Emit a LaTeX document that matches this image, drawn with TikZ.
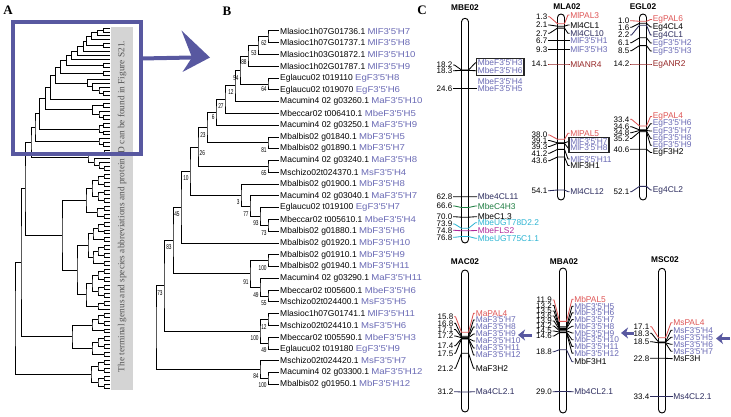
\documentclass[tikz,border=0pt]{standalone}
\usepackage{fontspec}
\usetikzlibrary{calc,fit,arrows.meta}
\newfontfamily\arial{Liberation Sans}
\newfontfamily\timesf{Liberation Serif}
\definecolor{gn}{RGB}{105,105,180}
\definecolor{bluearr}{RGB}{88,88,160}
\definecolor{palred}{RGB}{222,85,85}
\definecolor{anrbrown}{RGB}{150,40,40}
\definecolor{navy}{RGB}{45,45,95}
\definecolor{c4hgreen}{RGB}{30,125,65}
\definecolor{ugtcyan}{RGB}{45,180,210}
\definecolor{flsmag}{RGB}{175,40,155}
\definecolor{barg}{RGB}{212,212,212}
\definecolor{bartext}{RGB}{85,85,85}
\tikzset{
 leaf/.style={anchor=west, inner sep=1.5pt, font=\arial\fontsize{8.5}{9}\selectfont, text=black},
 bslab/.style={anchor=east, inner sep=0pt, font=\arial\fontsize{7}{7}\selectfont},
 btree/.style={line width=1pt, black},
 atree/.style={line width=0.9pt, black},
 chromo/.style={draw, fill=white, line width=0.9pt, rounded corners=3.5pt, minimum width=7pt, inner sep=0pt},
 ctitle/.style={font=\arial\bfseries\fontsize{8.3}{9}\selectfont, inner sep=0pt},
 numlab/.style={anchor=east, inner sep=0.6pt, font=\arial\fontsize{8}{8}\selectfont},
 genlab/.style={anchor=west, inner sep=0.6pt, font=\arial\fontsize{8.4}{8}\selectfont},
 mkline/.style={line width=0.85pt},
 hbox/.style={draw=black!85, line width=1.2pt, inner sep=0.6pt},
 panel/.style={font=\timesf\bfseries\fontsize{13}{13}\selectfont, inner sep=0pt},
 barrow/.style={-{Stealth[length=7pt,width=11pt,inset=2pt]}, line width=3pt, draw=bluearr},
}
% tree node: [style]{name}{x}{child1}{child2}
\newcommand\tn[5][]{%
  \path let \p1=($(#4)!.5!(#5)$) in coordinate (#2) at (#3pt,\y1);
  \draw[#1] (#4) -| (#2) |- (#5);}
% bootstrap label
\newcommand\bs[3]{\node[bslab] (bs#1) at ([xshift=-1.2pt,yshift={-(#3)*1pt}]#1) {\scalebox{0.68}[1]{#2}};}
\newcommand\gname[1]{{\color{gn}\scalebox{1.13}[1]{#1}}}
% marker: id, cx, yL, yA, yR, number, line colour, label colour, label
\newcommand\mk[9]{%
  \node[numlab] (#1n) at ({#2-\lo},#3) {#6};
  \node[genlab,text=#8] (#1g) at ({#2+\ro},#5) {#9};
  \draw[mkline,draw=#7] (#1n.east) -- ++(1.5,0) -- ({#2-3.5},#4) -- ({#2+3.5},#4) -- ($(#1g.west)+(-1.5,0)$) -- (#1g.west);}
% right-only marker: id, cx, yA, yR, line colour, label colour, label
\newcommand\mkr[7]{%
  \node[genlab,text=#6] (#1g) at ({#2+\ro},#4) {#7};
  \draw[mkline,draw=#5] ({#2-3.5},#3) -- ({#2+3.5},#3) -- ($(#1g.west)+(-1.5,0)$) -- (#1g.west);}
\newcommand\chr[4]{\node[chromo, minimum height={#4-#3}] (#1) at (#2,{(#3+#4)/2}) {};}
\begin{document}
\begin{tikzpicture}[x=1pt,y=-1pt]
\useasboundingbox (0,0) rectangle (731,417);
% ---------------- panel labels
\node[panel] (pA) at (8,10) {A};
\node[panel] (pB) at (227,11) {B};
\node[panel] (pC) at (422,10) {C};
% ---------------- panel A
\node[fill=barg, minimum width=22pt, minimum height=363pt, inner sep=0pt] (gbar) at (122,208.5) {};
\node[rotate=90, text=bartext, font=\timesf\fontsize{9.3}{10}\selectfont, inner sep=0pt] (gtext) at (122,206.5) {The terminal genus and species abbreviations and protein ID can be found in Figure S21.};
\foreach \i in {1,...,92} \coordinate (L\i) at (110,{28+3.96*(\i-1)});
\tn[atree]{a62}{103.9}{L1}{L2}
\tn[atree]{a53}{97.7}{a62}{L3}
\tn[atree]{a88}{91.6}{a53}{L4}
\tn[atree]{a64}{103.9}{L5}{L6}
\tn[atree]{a54}{86.7}{a88}{a64}
\tn[atree]{a12a}{83.6}{a54}{L7}
\tn[atree]{a27}{77.4}{a12a}{L8}
\tn[atree]{a6}{71.9}{a27}{L9}
\tn[atree]{a81}{103.9}{L10}{L11}
\tn[atree]{a23}{66.4}{a6}{a81}
\tn[atree]{a65}{103.9}{L12}{L13}
\tn[atree]{a26}{60.8}{a23}{a65}
\tn[atree]{a73a}{103.9}{L17}{L18}
\tn[atree]{a93}{99}{L16}{a73a}
\tn[atree]{a77}{92.8}{L15}{a93}
\tn[atree]{a3}{87.3}{L14}{a77}
\tn[atree]{a10}{55.9}{a26}{a3}
\tn[atree]{a45}{50.4}{a10}{L19}
\tn[atree]{a100a}{103.9}{L20}{L21}
\tn[atree]{a55}{103.9}{L23}{L24}
\tn[atree]{a49a}{99}{L22}{a55}
\tn[atree]{a91}{92.8}{a100a}{a49a}
\tn[atree]{a83}{45.5}{a45}{a91}
\tn[atree]{a12b}{103.9}{L25}{L26}
\tn[atree]{a49b}{103.9}{L27}{L28}
\tn[atree]{a100b}{99}{a12b}{a49b}
\tn[atree]{a73}{39.9}{a83}{a100b}
\tn[atree]{a100c}{103.9}{L30}{L31}
\tn[atree]{a84}{99}{L29}{a100c}
\tn[atree]{aT1}{35}{a73}{a84}
\tn[atree]{t2a}{104}{L32}{L33}
\tn[atree]{t2b}{104}{L36}{L37}
\tn[atree]{t2c}{99}{L35}{t2b}
\tn[atree]{t2d}{94}{L34}{t2c}
\tn[atree]{T2}{88}{t2a}{t2d}
\tn[atree]{Na}{31}{aT1}{T2}
\tn[atree]{t3a}{104}{L38}{L39}
\tn[atree]{t3b}{104}{L40}{L41}
\tn[atree]{t3c}{98}{t3a}{t3b}
\tn[atree]{t3d}{104}{L42}{L43}
\tn[atree]{t3e}{104}{L44}{L45}
\tn[atree]{t3f}{98}{t3d}{t3e}
\tn[atree]{t3g}{92}{t3c}{t3f}
\tn[atree]{t3h}{104}{L46}{L47}
\tn[atree]{t3i}{104}{L48}{L49}
\tn[atree]{t3j}{97}{t3h}{t3i}
\tn[atree]{T3}{86}{t3g}{t3j}
\tn[atree]{t4a}{104}{L50}{L51}
\tn[atree]{t4b}{104}{L52}{L53}
\tn[atree]{t4c}{98}{t4a}{t4b}
\tn[atree]{t4d}{104}{L54}{L55}
\tn[atree]{t4e}{93}{t4c}{t4d}
\tn[atree]{t4f}{104}{L56}{L57}
\tn[atree]{t4g}{104}{L58}{L59}
\tn[atree]{t4h}{98}{t4f}{t4g}
\tn[atree]{t4i}{104}{L60}{L61}
\tn[atree]{t4j}{93}{t4h}{t4i}
\tn[atree]{t4k}{88}{t4e}{t4j}
\tn[atree]{t4l}{104}{L62}{L63}
\tn[atree]{t4m}{104}{L64}{L65}
\tn[atree]{t4n}{98}{t4l}{t4m}
\tn[atree]{t4o}{104}{L66}{L67}
\tn[atree]{t4p}{104}{L68}{L69}
\tn[atree]{t4q}{98}{t4o}{t4p}
\tn[atree]{t4r}{92}{t4n}{t4q}
\tn[atree]{t4s}{104}{L70}{L71}
\tn[atree]{t4t}{98}{t4s}{L72}
\tn[atree]{t4u}{86}{t4r}{t4t}
\tn[atree]{T4}{77}{t4k}{t4u}
\tn[atree]{Yn}{62}{T3}{T4}
\tn[atree]{Xn}{25}{Na}{Yn}
\tn[atree]{t5a}{104}{L73}{L74}
\tn[atree]{t5b}{104}{L75}{L76}
\tn[atree]{t5c}{98}{t5a}{t5b}
\tn[atree]{t5d}{104}{L77}{L78}
\tn[atree]{t5e}{92}{t5c}{t5d}
\tn[atree]{t5f}{104}{L79}{L80}
\tn[atree]{t5g}{104}{L81}{L82}
\tn[atree]{t5h}{98}{t5f}{t5g}
\tn[atree]{t5i}{104}{L83}{L84}
\tn[atree]{t5j}{92}{t5h}{t5i}
\tn[atree]{T5}{72}{t5e}{t5j}
\tn[atree]{Nc}{21}{Xn}{T5}
\tn[atree]{t6a}{104}{L85}{L86}
\tn[atree]{t6b}{104}{L87}{L88}
\tn[atree]{t6c}{98}{t6a}{t6b}
\tn[atree]{t6d}{104}{L89}{L90}
\tn[atree]{t6e}{104}{L91}{L92}
\tn[atree]{t6f}{98}{t6d}{t6e}
\tn[atree]{T6}{91}{t6c}{t6f}
\tn[atree]{Rt}{15}{Nc}{T6}
\node[draw=bluearr, line width=4pt, minimum width=128.6pt, minimum height=132pt, inner sep=0pt] (abox) at (77,88) {};
\coordinate (arS) at (141.3,58.5);
\coordinate (arN) at (192,57.5);
\coordinate (arT) at (210,57.5);
\coordinate (arU) at (181.5,30.5);
\coordinate (arL) at (182.5,72);
\draw[bluearr, line width=4pt] (arS) -- (arN);
\fill[bluearr] (arT) -- (arU) -- (arN) -- (arL) -- cycle;
% ---------------- panel B
\foreach \i/\id/\g in {
1/Mlasioc1h07G01736.1/MlF3'5'H7,
2/Mlasioc1h07G01737.1/MlF3'5'H8,
3/Mlasioc1h03G01872.1/MlF3'5'H10,
4/Mlasioc1h02G01787.1/MlF3'5'H9,
5/Eglaucu02 t019110/EgF3'5'H8,
6/Eglaucu02 t019070/EgF3'5'H6,
7/Macumin4 02 g03260.1/MaF3'5'H10,
8/Mbeccar02 t006410.1/MbeF3'5'H5,
9/Macumin4 02 g03250.1/MaF3'5'H9,
10/Mbalbis02 g01840.1/MbF3'5'H5,
11/Mbalbis02 g01890.1/MbF3'5'H7,
12/Macumin4 02 g03240.1/MaF3'5'H8,
13/Mschizo02t024370.1/MsF3'5'H4,
14/Mbalbis02 g01900.1/MbF3'5'H8,
15/Macumin4 02 g03040.1/MaF3'5'H7,
16/Eglaucu02 t019100/EgF3'5'H7,
17/Mbeccar02 t005610.1/MbeF3'5'H4,
18/Mbalbis02 g01880.1/MbF3'5'H6,
19/Mbalbis02 g01920.1/MbF3'5'H10,
20/Mbalbis02 g01910.1/MbF3'5'H9,
21/Mbalbis02 g01940.1/MbF3'5'H11,
22/Macumin4 02 g03290.1/MaF3'5'H11,
23/Mbeccar02 t005600.1/MbeF3'5'H6,
24/Mschizo02t024400.1/MsF3'5'H5,
25/Mlasioc1h07G01741.1/MlF3'5'H11,
26/Mschizo02t024410.1/MsF3'5'H6,
27/Mbeccar02 t005590.1/MbeF3'5'H3,
28/Eglaucu02 t019180/EgF3'5'H9,
29/Mschizo02t024420.1/MsF3'5'H7,
30/Macumin4 02 g03300.1/MaF3'5'H12,
31/Mbalbis02 g01950.1/MbF3'5'H12}
  \node[leaf] (b\i) at (278.5,{31+11.78*(\i-1)}) {\id\ \gname{\g}};
\tn[btree]{n62}{268}{b1}{b2}
\tn[btree]{n53}{258}{n62}{b3}
\tn[btree]{n88}{248}{n53}{b4}
\tn[btree]{n64}{268}{b5}{b6}
\tn[btree]{n54}{240}{n88}{n64}
\tn[btree]{n12a}{235}{n54}{b7}
\tn[btree]{n27}{225}{n12a}{b8}
\tn[btree]{n6}{216}{n27}{b9}
\tn[btree]{n81}{268}{b10}{b11}
\tn[btree]{n23}{207}{n6}{n81}
\tn[btree]{n65}{268}{b12}{b13}
\tn[btree]{n26}{198}{n23}{n65}
\tn[btree]{n73a}{268}{b17}{b18}
\tn[btree]{n93}{260}{b16}{n73a}
\tn[btree]{n77}{250}{b15}{n93}
\tn[btree]{n3}{241}{b14}{n77}
\tn[btree]{n10}{190}{n26}{n3}
\tn[btree]{n45}{181}{n10}{b19}
\tn[btree]{n100a}{268}{b20}{b21}
\tn[btree]{n55}{268}{b23}{b24}
\tn[btree]{n49a}{260}{b22}{n55}
\tn[btree]{n91}{250}{n100a}{n49a}
\tn[btree]{n83}{173}{n45}{n91}
\tn[btree]{n12b}{268}{b25}{b26}
\tn[btree]{n49b}{268}{b27}{b28}
\tn[btree]{n100b}{260}{n12b}{n49b}
\tn[btree]{n73}{164}{n83}{n100b}
\tn[btree]{n100c}{268}{b30}{b31}
\tn[btree]{n84}{260}{b29}{n100c}
\tn[btree]{nroot}{156}{n73}{n84}
\bs{n62}{62}{6}
\bs{n53}{53}{7}
\bs{n88}{88}{6}
\bs{n64}{64}{5}
\bs{n54}{54}{8}
\bs{n12a}{12}{6}
\bs{n27}{27}{6}
\bs{n6}{6}{5}
\bs{n81}{81}{7}
\bs{n23}{23}{7}
\bs{n65}{65}{6.5}
\node[bslab, anchor=west] (bsn26) at ([xshift=1.5pt,yshift=-6pt]n26) {\scalebox{0.68}[1]{26}};
\bs{n73a}{73}{7.5}
\bs{n93}{93}{6.5}
\bs{n77}{77}{8}
\bs{n3}{3}{7}
\bs{n10}{10}{7}
\bs{n45}{45}{7}
\bs{n100a}{100}{7}
\bs{n55}{55}{7}
\bs{n49a}{49}{8}
\bs{n91}{91}{8}
\bs{n83}{83}{6.5}
\bs{n12b}{12}{7.5}
\bs{n49b}{49}{7}
\bs{n100b}{100}{6.5}
\bs{n73}{73}{7}
\bs{n100c}{100}{6.5}
\bs{n84}{84}{6}
% ---------------- panel C
\node[ctitle] (tMBE) at (465,8) {MBE02};
\node[ctitle] (tMLA) at (567,7) {MLA02};
\node[ctitle] (tEGL) at (643,7) {EGL02};
\node[ctitle] (tMAC) at (465,262) {MAC02};
\node[ctitle] (tMBA) at (564,262) {MBA02};
\node[ctitle] (tMSC) at (665,260) {MSC02};
\chr{cMBE}{465}{18.3}{243}
\chr{cMLA}{561}{14}{200}
\chr{cEGL}{643}{14}{200}
\chr{cMAC}{465}{270}{412}
\chr{cMBA}{563}{268}{413}
\chr{cMSC}{662}{268.3}{413}
% MBE02
\def\lo{12}\def\ro{12}
\mk{be1}{465}{65}{70}{62.7}{18.2}{black}{gn}{MbeF3'5'H3}
\mk{be2}{465}{70.7}{70.4}{70.7}{18.3}{black}{gn}{MbeF3'5'H6}
\node[genlab,text=gn] (be3g) at (477,81.7) {MbeF3'5'H4};
\mk{be4}{465}{88.3}{88.3}{88.3}{24.6}{black}{gn}{MbeF3'5'H5}
\mk{be5}{465}{196.7}{196.8}{196.7}{62.8}{black}{navy}{Mbe4CL11}
\mk{be6}{465}{206}{207.5}{206}{66.6}{c4hgreen}{c4hgreen}{MbeC4H3}
\mk{be7}{465}{216.7}{217.2}{216.7}{70.0}{black}{black}{MbeC1.3}
\mk{be8}{465}{224}{228.3}{222.7}{73.9}{ugtcyan}{ugtcyan}{MbeUGT78D2.2}
\mk{be9}{465}{230.3}{230.8}{230.5}{74.8}{flsmag}{flsmag}{MbeFLS2}
\mk{be10}{465}{237.3}{236.5}{238.3}{76.8}{ugtcyan}{ugtcyan}{MbeUGT75C1.1}
\node[hbox, fit=(be1g)(be2g)] (boxMBE) {};
% MLA02
\def\lo{13}\def\ro{8.5}
\mk{la1}{561}{16.7}{23.7}{15}{1.3}{palred}{palred}{MlPAL3}
\mk{la2}{561}{25}{26.2}{25}{2.1}{black}{black}{Ml4CL1}
\mk{la3}{561}{33.3}{28.1}{33.3}{2.7}{black}{navy}{Ml4CL10}
\mk{la4}{561}{40.7}{40.7}{40.7}{6.7}{black}{gn}{MlF3'5'H1}
\mk{la5}{561}{49.3}{49.3}{49.3}{9.3}{black}{gn}{MlF3'5'H3}
\mk{la6}{561}{64}{64}{64}{14.1}{anrbrown}{anrbrown}{MlANR4}
\mk{la7}{561}{135}{139.3}{133.3}{38.0}{palred}{palred}{MlPAL5}
\mk{la8}{561}{140.5}{142.8}{141.7}{39.1}{black}{gn}{MlF3'5'H7}
\mk{la9}{561}{146.5}{143.4}{147.9}{39.3}{black}{gn}{MlF3'5'H8}
\mk{la10}{561}{153.3}{149.4}{159}{41.2}{black}{gn}{MlF3'5'H11}
\mk{la11}{561}{160.7}{157}{165.5}{43.6}{black}{black}{MlF3H1}
\mk{la12}{561}{190.7}{190}{191.7}{54.1}{navy}{navy}{Ml4CL12}
\node[hbox, fit=(la8g)(la9g)] (boxMLA) {};
% EGL02
\def\lo{13}\def\ro{9}
\mk{eg1}{643}{20.7}{21.3}{19.5}{1.0}{palred}{palred}{EgPAL6}
\mk{eg2}{643}{27.3}{23.3}{27}{1.6}{black}{black}{Eg4CL4}
\mk{eg3}{643}{35}{25.2}{35}{2.2}{navy}{navy}{Eg4CL1}
\mk{eg4}{643}{42.7}{37.8}{43}{6.1}{black}{gn}{EgF3'5'H2}
\mk{eg5}{643}{50.7}{45.6}{51}{8.5}{black}{gn}{EgF3'5'H3}
\mk{eg6}{643}{64}{64}{64}{14.2}{anrbrown}{anrbrown}{EgANR2}
\mk{eg7}{643}{119.3}{126}{116.5}{33.4}{palred}{palred}{EgPAL4}
\mk{eg8}{643}{126.7}{129.9}{123.8}{34.6}{black}{gn}{EgF3'5'H6}
\mk{eg9}{643}{132.7}{130.5}{131}{34.8}{black}{gn}{EgF3'5'H7}
\mkr{eg10}{643}{131}{138.2}{black}{gn}{EgF3'5'H8}
\mk{eg11}{643}{138.5}{131.8}{145.3}{35.2}{black}{gn}{EgF3'5'H9}
\mk{eg12}{643}{149.3}{149.2}{152.5}{40.6}{black}{black}{EgF3H2}
\mk{eg13}{643}{191.7}{186.4}{190}{52.1}{navy}{navy}{Eg4CL2}
% MAC02
\def\lo{11}\def\ro{10}
\mk{ac1}{465}{316.7}{332.3}{313.3}{15.8}{palred}{palred}{MaPAL4}
\mk{ac2}{465}{323.3}{336.2}{320}{16.8}{black}{gn}{MaF3'5'H7}
\mk{ac3}{465}{329.5}{337.3}{327}{17.1}{black}{gn}{MaF3'5'H8}
\mk{ac4}{465}{336}{337.7}{334}{17.2}{black}{gn}{MaF3'5'H9}
\mk{ac5}{465}{345.7}{338.5}{341}{17.4}{black}{gn}{MaF3'5'H10}
\mkr{ac6}{465}{338.7}{348}{black}{gn}{MaF3'5'H11}
\mk{ac7}{465}{353.3}{338.9}{355}{17.5}{black}{gn}{MaF3'5'H12}
\mk{ac8}{465}{368.3}{353.3}{368.3}{21.2}{black}{black}{MaF3H2}
\mk{ac9}{465}{391.7}{392}{391.7}{31.2}{navy}{navy}{Ma4CL2.1}
% MBA02
\def\lo{10.5}\def\ro{10.5}
\mk{ba1}{563}{300}{321.4}{299.3}{11.9}{palred}{palred}{MbPAL5}
\mk{ba2}{563}{305.5}{326.7}{306.2}{13.2}{black}{gn}{MbF3'5'H5}
\mk{ba3}{563}{311}{328}{312.9}{13.5}{black}{gn}{MbF3'5'H6}
\mk{ba4}{563}{316}{328.4}{319.6}{13.6}{black}{gn}{MbF3'5'H7}
\mk{ba5}{563}{321}{329.6}{326.3}{13.9}{black}{gn}{MbF3'5'H8}
\mk{ba6}{563}{326}{330.8}{333}{14.2}{black}{gn}{MbF3'5'H9}
\mk{ba7}{563}{331}{332}{339.7}{14.5}{black}{gn}{MbF3'5'H10}
\mk{ba8}{563}{336}{332.5}{346.4}{14.6}{black}{gn}{MbF3'5'H11}
\mkr{ba9}{563}{332.7}{353.1}{black}{gn}{MbF3'5'H12}
\mk{ba10}{563}{351.7}{349.7}{361.7}{18.8}{navy}{black}{MbF3H1}
\mk{ba11}{563}{391.7}{391.5}{391.7}{29.0}{navy}{navy}{Mb4CL2.1}
% MSC02
\def\lo{12}\def\ro{10.5}
\mk{sc1}{662}{326.7}{337.7}{322.7}{17.1}{palred}{palred}{MsPAL4}
\mk{sc2}{662}{333.3}{342}{330.3}{18.3}{black}{gn}{MsF3'5'H4}
\mkr{sc3}{662}{342.2}{337.3}{black}{gn}{MsF3'5'H5}
\mk{sc4}{662}{341.7}{342.8}{344.3}{18.5}{black}{gn}{MsF3'5'H6}
\mkr{sc5}{662}{342.8}{351.3}{black}{gn}{MsF3'5'H7}
\mk{sc6}{662}{358.3}{358.3}{358.6}{22.8}{black}{black}{MsF3H}
\mk{sc7}{662}{396.7}{396.7}{396.7}{33.4}{navy}{navy}{Ms4CL2.1}
% blue arrows
\coordinate (aw1t) at (532,335); \coordinate (aw1h) at (518,335);
\coordinate (aw2t) at (634,333); \coordinate (aw2h) at (621,333);
\coordinate (aw3t) at (730,338.5); \coordinate (aw3h) at (716,338.5);
\draw[barrow] (aw1t) -- (aw1h);
\draw[barrow] (aw2t) -- (aw2h);
\draw[barrow] (aw3t) -- (aw3h);
\end{tikzpicture}
\end{document}
